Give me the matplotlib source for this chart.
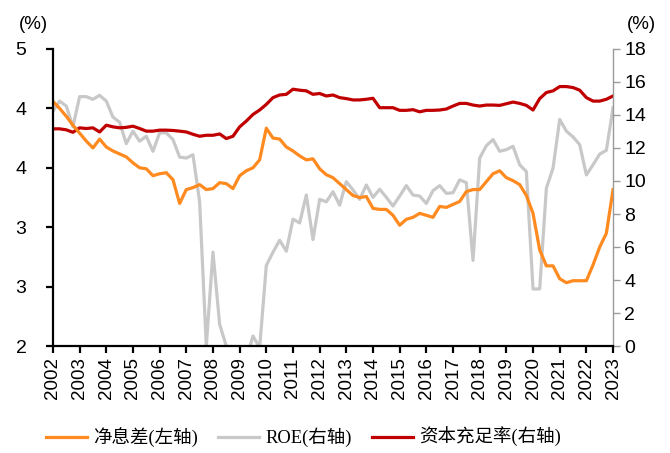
import numpy as np
import matplotlib
matplotlib.use("Agg")
import matplotlib.pyplot as plt
from matplotlib.ticker import FormatStrFormatter

plt.rcParams['font.family'] = ['Liberation Sans', 'Noto Sans CJK SC']

years = list(range(2002, 2024))
n_quarters = 85  # 2002Q1 ... 2023Q1

nim = [4.47, 4.40, 4.32, 4.23, 4.15, 4.07, 4.00, 4.09, 4.01, 3.97,
       3.94, 3.91, 3.85, 3.80, 3.79, 3.72, 3.74, 3.75, 3.68, 3.44,
       3.58, 3.60, 3.63, 3.58, 3.59, 3.65, 3.64, 3.59, 3.72, 3.77,
       3.80, 3.88, 4.20, 4.10, 4.09, 4.01, 3.97, 3.92, 3.88, 3.89,
       3.79, 3.73, 3.70, 3.64, 3.58, 3.52, 3.50, 3.51, 3.39, 3.38,
       3.38, 3.32, 3.22, 3.28, 3.30, 3.34, 3.32, 3.30, 3.41, 3.40,
       3.43, 3.46, 3.56, 3.58, 3.58, 3.66, 3.74, 3.77, 3.70, 3.67,
       3.63, 3.52, 3.34, 2.97, 2.81, 2.81, 2.68, 2.64, 2.66, 2.66,
       2.66, 2.82, 3.00, 3.14, 3.58]

roe = [14.23, 14.84, 14.54, 13.28, 15.11, 15.11, 14.95, 15.19, 14.84, 13.87,
       13.56, 12.26, 13.02, 12.41, 12.71, 11.80, 12.92, 12.92, 12.51, 11.45,
       11.39, 11.59, 8.74, 0.0, 5.69, 1.32, 0.0, -1.5, -1.5, -0.8,
       0.61, -0.1, 4.88, 5.69, 6.41, 5.75, 7.69, 7.46, 9.15, 6.45,
       8.89, 8.74, 9.35, 8.54, 9.96, 9.46, 8.89, 9.76, 9.01, 9.50,
       9.01, 8.48, 9.09, 9.72, 9.15, 9.09, 8.64, 9.42, 9.72, 9.25,
       9.29, 10.07, 9.90, 5.19, 11.39, 12.14, 12.51, 11.80, 11.90, 12.10,
       10.98, 10.57, 3.46, 3.46, 9.56, 10.78, 13.73, 13.02, 12.67, 12.20,
       10.37, 10.98, 11.63, 11.86, 14.44]

car = [13.16, 13.16, 13.10, 12.95, 13.22, 13.18, 13.22, 12.97, 13.38, 13.28,
       13.22, 13.25, 13.32, 13.18, 13.02, 13.02, 13.08, 13.08, 13.06, 13.02,
       12.97, 12.83, 12.71, 12.77, 12.77, 12.85, 12.57, 12.71, 13.28, 13.63,
       14.03, 14.30, 14.64, 15.05, 15.21, 15.25, 15.56, 15.50, 15.46, 15.25,
       15.30, 15.15, 15.21, 15.05, 14.99, 14.91, 14.91, 14.95, 15.01, 14.44,
       14.44, 14.44, 14.28, 14.28, 14.32, 14.19, 14.28, 14.28, 14.30, 14.36,
       14.54, 14.70, 14.70, 14.60, 14.54, 14.60, 14.60, 14.58, 14.68, 14.78,
       14.70, 14.58, 14.30, 14.99, 15.36, 15.46, 15.72, 15.72, 15.66, 15.50,
       15.05, 14.84, 14.84, 14.95, 15.15]

labels = ['净息差(左轴)', 'ROE(右轴)', '资本充足率(右轴)']
colors = ['#FF8A1F', '#C8C8C8', '#C00000']

x = [years[0] + i / 4 for i in range(n_quarters)]

fig = plt.figure(figsize=(6.7, 4.53), dpi=100)
ax = fig.add_axes([0.079, 0.236, 0.836, 0.656])
ax2 = ax.twinx()

l2, = ax2.plot(x, roe, color=colors[1], lw=2.3, label=labels[1])
l3, = ax2.plot(x, car, color=colors[2], lw=2.3, label=labels[2])
l1, = ax.plot(x, nim, color=colors[0], lw=2.3, label=labels[0])

ax.set_zorder(ax2.get_zorder() + 1)
ax.patch.set_visible(False)

ax.set_xlim(2002, 2023)
ax.set_ylim(2, 5)
ax.set_yticks(np.linspace(2, 5, 6))
ax.yaxis.set_major_formatter(FormatStrFormatter('%.0f'))
ax2.set_ylim(0, 18)
ax2.set_yticks(range(0, 19, 2))
ax.set_xticks(years)
ax.set_xticklabels([str(y) for y in years], rotation=90)

for s in ['top']:
    ax.spines[s].set_visible(False)
    ax2.spines[s].set_visible(False)
ax2.spines['left'].set_visible(False)
ax2.spines['bottom'].set_visible(False)
ax.spines['right'].set_visible(False)
ax.spines['left'].set_linewidth(1.6)
ax.spines['bottom'].set_linewidth(1.6)
ax2.spines['right'].set_color('#999999')
ax2.spines['right'].set_linewidth(1.0)

ax.tick_params(axis='both', direction='out', length=5, width=1.6, labelsize=14, colors='black')
ax.tick_params(axis='y', pad=14)
ax.tick_params(axis='x', pad=3, labelsize=13.5)
ax2.tick_params(axis='y', direction='out', length=5, width=1.0, color='#999999',
                labelcolor='black', labelsize=14, pad=3)

fig.text(0.028, 0.945, '(%)', fontsize=13.5, ha='left', va='center')
fig.text(0.935, 0.945, '(%)', fontsize=13.5, ha='left', va='center')

fig.legend(handles=[l1, l2, l3], labels=labels, loc='center', bbox_to_anchor=(0.453, 0.035),
           ncol=3, frameon=False, handlelength=2.2, handletextpad=0.35, columnspacing=1.1,
           prop={'family': ['Liberation Serif', 'Noto Sans CJK SC'], 'size': 13.3})

fig.savefig('out.png', dpi=100)
